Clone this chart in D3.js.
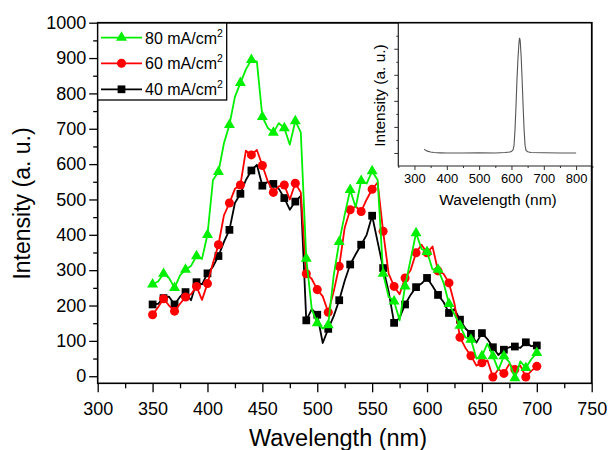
<!DOCTYPE html>
<html>
<head>
<meta charset="utf-8">
<script src="https://cdn.jsdelivr.net/npm/d3@7"></script>
<style>
  body { margin: 0; background: #fff; }
  svg { display: block; }
  text { font-family: "Liberation Sans", Arial, sans-serif; fill: #000; }
</style>
</head>
<body>
<svg id="chart" width="608" height="450"></svg>
<script>
// Emission spectra, sampled every 5 nm from 350 to 700 nm
const wavelengths = d3.range(350, 701, 5);

const intensity80 = [
  260, 268, 290, 278, 250, 285, 302, 312, 340, 332,
  400, 555, 578, 659, 711, 790, 830, 868, 895, 890,
  734, 702, 689, 716, 702, 655, 722, 690, 333, 190,
  150, 135, 145, 285, 380, 457, 527, 478, 553, 545,
  580, 555, 290, 225, 212, 158, 254, 330, 405, 360,
  352, 302, 302, 265, 205, 175, 143, 110, 104, 50,
  57, 92, 57, 18, 57, 40, -5, 42, 24, 48, 66
];
const intensity60 = [
  174, 195, 219, 200, 184, 205, 224, 232, 254, 216,
  262, 320, 372, 455, 490, 530, 541, 638, 626, 640,
  596, 551, 520, 537, 541, 500, 546, 520, 290, 275,
  245, 226, 181, 240, 311, 420, 471, 480, 466, 500,
  529, 548, 410, 290, 254, 232, 278, 300, 349, 372,
  349, 367, 298, 290, 264, 205, 110, 80, 58, 30,
  38, 45, -2, 20, 8, 35, 19, 30, -2, 15, 28
];
const intensity40 = [
  203, 205, 221, 225, 203, 225, 238, 215, 266, 260,
  291, 310, 340, 380, 414, 490, 516, 555, 582, 598,
  539, 550, 544, 530, 504, 471, 494, 510, 158, 190,
  174, 94, 134, 170, 215, 270, 316, 345, 372, 400,
  454, 380, 306, 240, 151, 165, 203, 230, 252, 262,
  278, 255, 230, 210, 179, 190, 160, 135, 120, 95,
  122, 105, 82, 60, 75, 82, 84, 80, 96, 85, 87
];

const seriesNames = ["80 mA/cm", "60 mA/cm", "40 mA/cm"];
const seriesColors = ["#00f000", "#ff0000", "#000000"];

const xTicks = [300, 350, 400, 450, 500, 550, 600, 650, 700, 750];
const xMinorTicks = [325, 375, 425, 475, 525, 575, 625, 675, 725];
const yTicks = [0, 100, 200, 300, 400, 500, 600, 700, 800, 900, 1000];
const yMinorTicks = [50, 150, 250, 350, 450, 550, 650, 750, 850, 950];

// Inset: full-range spectrum
const insetWavelengths = [330, 335, 340, 350, 360, 370, 380, 400, 450, 500, 550, 580, 595, 600, 605, 608, 611, 614, 617, 620, 623, 625, 627, 630, 633, 636, 639, 642, 645, 650, 660, 700, 750, 800];
const insetIntensity = [0.14, 0.10, 0.07, 0.04, 0.02, 0.01, 0.005, 0, 0, 0.01, 0, 0.02, 0.04, 0.06, 0.12, 0.3, 0.9, 1.8, 2.8, 3.6, 4.2, 4.42, 4.3, 3.7, 2.8, 1.8, 0.9, 0.3, 0.1, 0.05, 0.02, 0.01, 0, 0];
const insetXTicks = [300, 400, 500, 600, 700, 800];
const insetXMinorTicks = [250, 350, 450, 550, 650, 750, 850];
const insetYTicks = [0, 1, 2, 3, 4];
const insetYMinorTicks = [0.5, 1.5, 2.5, 3.5, 4.5];

const svg = d3.select("#chart");
svg.append("rect").attr("width", 608).attr("height", 450).attr("fill", "#fff");

const L = 97.7, R = 591.7, T = 22.7, B = 383.3;
const x = d3.scaleLinear().domain([300, 750]).range([L, R]);
const y = d3.scaleLinear().domain([-20, 1000]).range([B, T]);
const fmt = d3.format("d");

// Axes
svg.append("g").attr("transform", `translate(0,${B})`)
  .call(d3.axisBottom(x).tickValues(xTicks).tickFormat(fmt).tickSize(9).tickSizeOuter(0).tickPadding(10));
svg.append("g").attr("transform", `translate(0,${B})`)
  .call(d3.axisBottom(x).tickValues(xMinorTicks).tickSize(5).tickSizeOuter(0).tickFormat(""));
svg.append("g").attr("transform", `translate(${L},0)`)
  .call(d3.axisLeft(y).tickValues(yTicks).tickFormat(fmt).tickSize(8.5).tickSizeOuter(0).tickPadding(3));
svg.append("g").attr("transform", `translate(${L},0)`)
  .call(d3.axisLeft(y).tickValues(yMinorTicks).tickSize(4.5).tickSizeOuter(0).tickFormat(""));

svg.selectAll(".tick line").attr("stroke", "#000").attr("stroke-width", 1.3);
svg.selectAll(".domain").attr("stroke", "none");
svg.selectAll(".tick text").attr("font-size", 18).attr("font-family", '"Liberation Sans", Arial, sans-serif');

// Frame
svg.append("rect").attr("x", L).attr("y", T).attr("width", R - L).attr("height", B - T)
  .attr("fill", "none").attr("stroke", "#000").attr("stroke-width", 1.6);

// Axis titles
svg.append("text").attr("x", 338).attr("y", 446).attr("text-anchor", "middle")
  .attr("font-size", 23.5).text("Wavelength (nm)");
svg.append("text").attr("transform", "translate(30,203.5) rotate(-90)")
  .attr("text-anchor", "middle").attr("font-size", 23).text("Intensity (a. u.)");

// Series, drawn lowest current first so the 80 mA/cm² trace sits on top
const seriesData = [intensity40, intensity60, intensity80];
const seriesIdx = [2, 1, 0];
const symbols = [d3.symbolTriangle, d3.symbolCircle, d3.symbolSquare];
const symbolSizes = [52, 64, 60];

const line = d3.line().x(d => x(d[0])).y(d => y(d[1]));

seriesData.forEach((vals, k) => {
  const i = seriesIdx[k];
  const pts = wavelengths.map((w, j) => [w, vals[j]]);
  const g = svg.append("g");
  g.append("path").datum(pts).attr("d", line)
    .attr("fill", "none").attr("stroke", seriesColors[i]).attr("stroke-width", 1.8)
    .attr("stroke-linejoin", "round");
  g.selectAll("path.mk").data(pts.filter(p => p[0] % 10 === 0)).join("path")
    .attr("class", "mk")
    .attr("transform", d => `translate(${x(d[0])},${y(d[1])})`)
    .attr("d", d3.symbol(symbols[i], symbolSizes[i]))
    .attr("fill", seriesColors[i]);
});

// Legend
const legend = svg.append("g");
legend.append("rect").attr("x", L).attr("y", T).attr("width", 226.7 - L).attr("height", 100 - T)
  .attr("fill", "#fff").attr("stroke", "#000").attr("stroke-width", 1.3);
const rowY = [37.7, 63.3, 89.3];
seriesNames.forEach((name, i) => {
  const ly = rowY[i];
  legend.append("line").attr("x1", 101).attr("x2", 142).attr("y1", ly).attr("y2", ly)
    .attr("stroke", seriesColors[i]).attr("stroke-width", 1.8);
  legend.append("path").attr("transform", `translate(121.5,${ly})`)
    .attr("d", d3.symbol(symbols[i], symbolSizes[i])).attr("fill", seriesColors[i]);
  const t = legend.append("text").attr("x", 145).attr("y", ly + 5.8).attr("font-size", 16);
  t.append("tspan").text(name);
  t.append("tspan").attr("dy", -7).attr("font-size", 10.5).text("2");
});

// Inset
const iL = 398.3, iR = 592.3, iT = 22.7, iB = 166;
const xi = d3.scaleLinear().domain([250, 850]).range([iL, iR]);
const yi = d3.scaleLinear().domain([-0.5, 5]).range([iB, iT]);
const inset = svg.append("g");
inset.append("rect").attr("x", iL).attr("y", iT).attr("width", iR - iL).attr("height", iB - iT)
  .attr("fill", "#fff");
inset.append("g").attr("transform", `translate(0,${iB})`)
  .call(d3.axisBottom(xi).tickValues(insetXTicks).tickFormat(fmt).tickSize(4).tickSizeOuter(0).tickPadding(4));
inset.append("g").attr("transform", `translate(0,${iB})`)
  .call(d3.axisBottom(xi).tickValues(insetXMinorTicks).tickSize(2).tickSizeOuter(0).tickFormat(""));
inset.append("g").attr("transform", `translate(${iL},0)`)
  .call(d3.axisLeft(yi).tickValues(insetYTicks).tickSize(4).tickSizeOuter(0).tickFormat(""));
inset.append("g").attr("transform", `translate(${iL},0)`)
  .call(d3.axisLeft(yi).tickValues(insetYMinorTicks).tickSize(2).tickSizeOuter(0).tickFormat(""));
inset.selectAll(".domain").attr("stroke", "none");
inset.selectAll(".tick line").attr("stroke", "#333").attr("stroke-width", 1);
inset.selectAll(".tick text").attr("font-size", 13).attr("font-family", '"Liberation Sans", Arial, sans-serif');
inset.append("path").attr("d", `M${iL},${iT}V${iB}H${iR}`)
  .attr("fill", "none").attr("stroke", "#222").attr("stroke-width", 1.2);
inset.append("path")
  .datum(insetWavelengths.map((w, j) => [w, insetIntensity[j]]))
  .attr("d", d3.line().x(d => xi(d[0])).y(d => yi(d[1])))
  .attr("fill", "none").attr("stroke", "#555").attr("stroke-width", 1.1);
inset.append("text").attr("x", 498).attr("y", 205).attr("text-anchor", "middle")
  .attr("font-size", 15.5).text("Wavelength (nm)");
inset.append("text").attr("transform", "translate(384.5,95.5) rotate(-90)")
  .attr("text-anchor", "middle").attr("font-size", 15.5).text("Intensity (a. u.)");

// Main frame edges over the inset
svg.append("path").attr("d", `M${L},${T}H${R}V${B}`)
  .attr("fill", "none").attr("stroke", "#000").attr("stroke-width", 1.6);
</script>
</body>
</html>
